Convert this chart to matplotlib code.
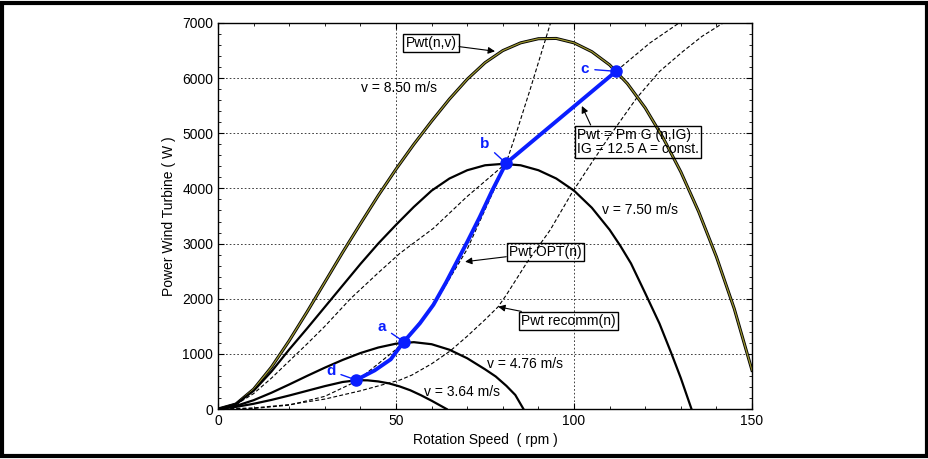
import numpy as np
import matplotlib
matplotlib.use("Agg")
import matplotlib.pyplot as plt
from matplotlib.patches import Rectangle
from matplotlib.ticker import MultipleLocator

plt.rcParams['font.family'] = ['Liberation Sans', 'DejaVu Sans']

# Pwt(n,v) for four wind speeds
n_v850 = [0, 5, 10, 15, 20, 25, 30, 35, 40, 45, 50, 55, 60, 65, 70, 75, 80, 85, 90, 95,
          100, 105, 110, 115, 120, 125, 130, 135, 140, 145, 150]
p_v850 = [0, 90, 360, 760, 1240, 1760, 2300, 2840, 3360, 3870, 4350, 4800, 5220, 5620, 5980,
          6280, 6500, 6640, 6715, 6720, 6640, 6480, 6240, 5900, 5460, 4920, 4300, 3580, 2760,
          1820, 700]

n_v750 = [0, 5, 10, 15, 20, 25, 30, 35, 40, 45, 50, 55, 60, 65, 70, 75, 80, 85, 90, 95,
          100, 105, 110, 113, 116, 120, 124, 127.4, 130, 133]
p_v750 = [0, 90, 330, 680, 1080, 1460, 1850, 2240, 2630, 3000, 3340, 3665, 3960, 4180, 4330,
          4420, 4445, 4420, 4330, 4180, 3960, 3650, 3250, 2960, 2640, 2100, 1550, 1000, 560, 0]

n_v476 = [0, 5, 10, 15, 20, 25, 30, 35, 40, 45, 50, 55, 60, 65, 70, 75, 78, 81, 83.5, 85.8]
p_v476 = [0, 55, 160, 295, 445, 600, 750, 890, 1015, 1115, 1185, 1212, 1175, 1075, 920,
          720, 590, 420, 255, 0]

n_v364 = [0, 5, 10, 15, 20, 25, 30, 35, 39, 42, 45, 48, 51, 54, 57, 60, 64.2]
p_v364 = [0, 38, 95, 165, 245, 330, 415, 490, 522, 520, 500, 465, 410, 340, 250, 150, 0]

# operating path (blue)
n_opt = [38.8, 44, 48.5, 52.2, 56.7, 60.5, 64, 67, 70, 73.5, 77, 80.9]
p_opt = [526, 700, 900, 1221, 1554, 1890, 2290, 2660, 3030, 3480, 3960, 4456]
n_ig = [80.9, 111.8]
p_ig = [4456, 6124]

# dashed curves
n_dashA = [0, 10, 20, 30, 38.8, 50, 60, 70, 80.9, 84, 87.6, 93.4]
p_dashA = [0, 10, 70, 230, 500, 1080, 1820, 2900, 4456, 5050, 5780, 7000]
n_dashB = [0, 5, 10, 15, 20, 25, 30, 37.2, 45, 51.1, 60.5, 69.9, 80.9, 90, 100.7, 111.8, 121.3, 129.5]
p_dashB = [0, 80, 280, 560, 870, 1180, 1500, 2000, 2470, 2824, 3277, 3850, 4456, 4960, 5525,
           6124, 6637, 7000]
n_recomm = [0, 10, 20, 30, 40, 51.1, 54.5, 60, 65.2, 70, 75, 78.7, 81.1, 86.7, 93.3, 99.4,
            105, 110, 117.6, 124, 130.7, 136, 141.9]
p_recomm = [0, 20, 80, 180, 330, 526, 617, 820, 1052, 1320, 1620, 1855, 2080, 2650, 3246, 3920,
            4470, 4950, 5640, 6120, 6490, 6760, 7000]

pt_names = ['a', 'b', 'c', 'd']
pt_n = [52.2, 80.9, 111.8, 38.8]
pt_p = [1221, 4456, 6124, 526]

blue = '#0a1eff'
fs = 10

fig = plt.figure(figsize=(9.29, 4.59), dpi=100)
ax = fig.add_axes([0.2347, 0.1089, 0.8095 - 0.2347, 0.9499 - 0.1089])

dash = (0, (3.5, 2))
ax.plot(n_dashA, p_dashA, color='k', lw=0.8, ls=dash)
ax.plot(n_dashB, p_dashB, color='k', lw=0.8, ls=dash)
ax.plot(n_recomm, p_recomm, color='k', lw=0.8, ls=dash)

ax.plot(n_v850, p_v850, color='k', lw=2.2)
ax.plot(n_v850, p_v850, color='#9c9630', lw=0.9)
ax.plot(n_v750, p_v750, color='k', lw=1.6)
ax.plot(n_v476, p_v476, color='k', lw=1.6)
ax.plot(n_v364, p_v364, color='k', lw=1.6)

ax.plot(n_opt, p_opt, color=blue, lw=2.8, solid_capstyle='round', solid_joinstyle='round')
ax.plot(n_ig, p_ig, color=blue, lw=2.8, solid_capstyle='round')
ax.plot(pt_n, pt_p, 'o', color=blue, ms=8, ls='none')

# letters a-d with leader lines
lbl_pos = {'a': (46.1, 1487), 'b': (75.0, 4806), 'c': (103.1, 6166), 'd': (31.7, 689)}
for name, x, y in zip(pt_names, pt_n, pt_p):
    ax.annotate(name, xy=(x, y), xytext=lbl_pos[name], color=blue, fontsize=11,
                fontweight='bold', ha='center', va='center',
                arrowprops=dict(arrowstyle='-', color=blue, lw=1.0, shrinkA=2, shrinkB=3))

arrow = dict(arrowstyle='-|>', color='k', lw=0.8, mutation_scale=10, shrinkA=0, shrinkB=0)
box = dict(boxstyle='square,pad=0.15', fc='none', ec='k', lw=1.0)

ax.annotate('Pwt(n,v)', xy=(77.8, 6487), xytext=(59.8, 6638), fontsize=fs, ha='center',
            va='center', bbox=box, arrowprops=arrow)
ax.annotate('Pwt = Pm G (n,IG)\nIG = 12.5 A = const.', xy=(102.2, 5495), xytext=(100.9, 4849),
            fontsize=fs, ha='left', va='center', linespacing=1.0, bbox=box,
            arrowprops=dict(arrow, relpos=(0.12, 1.0)))
ax.annotate('Pwt OPT(n)', xy=(69.4, 2671), xytext=(91.9, 2847), fontsize=fs, ha='center',
            va='center', bbox=box, arrowprops=arrow)
ax.annotate('Pwt recomm(n)', xy=(78.7, 1855), xytext=(98.5, 1596), fontsize=fs, ha='center',
            va='center', bbox=box, arrowprops=arrow)

ax.text(50.8, 5821, 'v = 8.50 m/s', fontsize=fs, ha='center', va='center')
ax.text(118.5, 3609, 'v = 7.50 m/s', fontsize=fs, ha='center', va='center')
ax.text(86.2, 816, 'v = 4.76 m/s', fontsize=fs, ha='center', va='center')
ax.text(68.5, 308, 'v = 3.64 m/s', fontsize=fs, ha='center', va='center')

ax.set_xlim(0, 150)
ax.set_ylim(0, 7000)
ax.set_xticks([0, 50, 100, 150])
ax.set_yticks(range(0, 7001, 1000))
ax.xaxis.set_minor_locator(MultipleLocator(10))
ax.yaxis.set_minor_locator(MultipleLocator(200))
ax.tick_params(which='both', direction='in', top=True, right=True, labelsize=fs)
ax.tick_params(which='major', length=4)
ax.tick_params(which='minor', length=2.5)
ax.grid(True, which='major', color='#222222', lw=0.6, ls=(0, (2, 2.5)))
for s in ax.spines.values():
    s.set_linewidth(1.0)

ax.set_xlabel('Rotation Speed  ( rpm )', fontsize=fs, labelpad=4)
ax.set_ylabel('Power Wind Turbine ( W )', fontsize=fs, labelpad=4)

fig.patches.append(Rectangle((0.002, 0.006), 0.996, 0.988, transform=fig.transFigure,
                             fill=False, ec='k', lw=3))

fig.savefig('out.png', dpi=100)
